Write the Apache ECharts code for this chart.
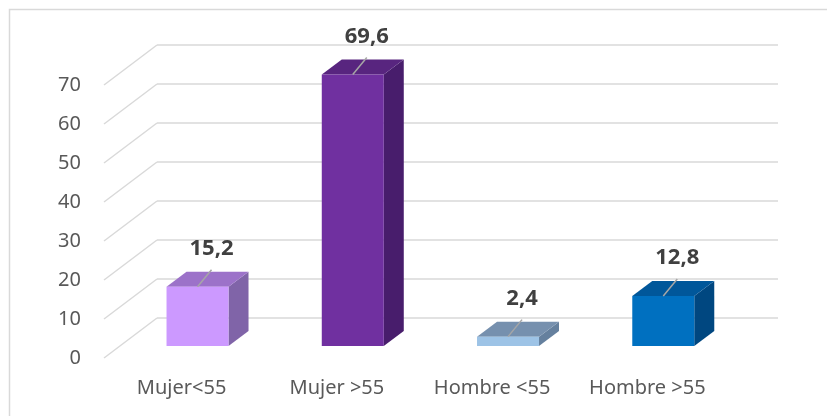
<!DOCTYPE html>
<html>
<head>
<meta charset="utf-8">
<script src="https://cdn.jsdelivr.net/npm/echarts@6/dist/echarts.min.js"></script>
<style>
  html, body { margin: 0; padding: 0; background: #fff; }
  #chart { width: 827px; height: 416px; }
</style>
</head>
<body>
<div id="chart"></div>
<script>
// datos
const categories = ['Mujer<55', 'Mujer >55', 'Hombre <55', 'Hombre >55']
const values = [15.2, 69.6, 2.4, 12.8]
const yTicks = [0, 10, 20, 30, 40, 50, 60, 70]

// colores de cada barra: frente, techo, lateral
const faceColors = ['#CC99FF', '#7030A0', '#9DC3E6', '#0070C0']
const topColors = ['#9C72C9', '#58257F', '#7690AE', '#00579A']
const sideColors = ['#8064A8', '#481D6C', '#65809E', '#004780']

// profundidad del suelo y de las barras (perspectiva tipo Excel)
const FLOOR_DX = 53
const FLOOR_DY = -40
const BAR_DX = 20
const BAR_DY = -15
const BAR_OFF = 0.3 // posicion de la barra dentro del fondo
const BAR_W = 62

const chart = echarts.init(document.getElementById('chart'))

const fmt = v => v.toFixed(1).replace('.', ',')

chart.setOption({
  animation: false,
  graphic: [
    {
      type: 'rect',
      shape: { x: 9.5, y: 9.5, width: 840, height: 430 },
      style: { fill: 'none', stroke: '#D9D9D9', lineWidth: 1.5 },
      z: -10
    }
  ],
  grid: [
    // plano frontal
    { left: 104, top: 85, width: 621, height: 273 },
    // pared del fondo
    { left: 104 + FLOOR_DX, top: 85 + FLOOR_DY, width: 621, height: 273 }
  ],
  xAxis: [
    {
      gridIndex: 0,
      type: 'category',
      data: categories,
      axisLine: { show: false },
      axisTick: { show: false },
      axisLabel: {
        margin: 20,
        fontFamily: 'Noto Sans',
        fontSize: 20,
        color: '#595959'
      }
    },
    {
      gridIndex: 1,
      type: 'category',
      data: categories,
      show: false
    }
  ],
  yAxis: [
    {
      gridIndex: 0,
      type: 'value',
      min: 0,
      max: 70,
      interval: 10,
      axisLine: { show: false },
      axisTick: { show: false },
      splitLine: { show: false },
      axisLabel: {
        margin: 23,
        fontFamily: 'Noto Sans',
        fontSize: 20,
        color: '#595959'
      }
    },
    {
      gridIndex: 1,
      type: 'value',
      min: 0,
      max: 70,
      interval: 10,
      axisLine: { show: false },
      axisTick: { show: false },
      axisLabel: { show: false },
      splitLine: { lineStyle: { color: '#D9D9D9', width: 1.5 } }
    }
  ],
  series: [
    {
      // lineas diagonales del suelo/pared lateral
      type: 'custom',
      xAxisIndex: 0,
      yAxisIndex: 0,
      z: 1,
      data: yTicks.map(t => [0, t]),
      encode: { x: 0, y: 1 },
      renderItem: (params, api) => {
        const x0 = params.coordSys.x
        const y0 = api.coord([0, api.value(1)])[1]
        return {
          type: 'line',
          shape: { x1: x0, y1: y0, x2: x0 + FLOOR_DX, y2: y0 + FLOOR_DY },
          style: { stroke: '#D9D9D9', lineWidth: 1.5 }
        }
      }
    },
    {
      // barras 3D
      type: 'custom',
      xAxisIndex: 0,
      yAxisIndex: 0,
      z: 3,
      data: values.map((v, i) => [i, v]),
      encode: { x: 0, y: 1 },
      renderItem: (params, api) => {
        const i = api.value(0)
        const v = api.value(1)
        const base = api.coord([i, 0])
        const top = api.coord([i, v])
        const cx = base[0] + BAR_OFF * FLOOR_DX
        const yb = base[1] + BAR_OFF * FLOOR_DY
        const yt = top[1] + BAR_OFF * FLOOR_DY
        const x1 = cx - BAR_W / 2
        const x2 = cx + BAR_W / 2
        return {
          type: 'group',
          children: [
            {
              type: 'polygon',
              shape: { points: [[x2, yb], [x2 + BAR_DX, yb + BAR_DY], [x2 + BAR_DX, yt + BAR_DY], [x2, yt]] },
              style: { fill: sideColors[i] }
            },
            {
              type: 'polygon',
              shape: { points: [[x1, yt], [x2, yt], [x2 + BAR_DX, yt + BAR_DY], [x1 + BAR_DX, yt + BAR_DY]] },
              style: { fill: topColors[i] }
            },
            {
              type: 'rect',
              shape: { x: x1, y: yt, width: BAR_W, height: yb - yt },
              style: { fill: faceColors[i] }
            },
            {
              type: 'line',
              shape: { x1: cx, y1: yt, x2: cx + 14, y2: yt - 17 },
              style: { stroke: '#A6A6A6', lineWidth: 1.5 }
            },
            {
              type: 'text',
              style: {
                x: cx + 14,
                y: yt - 38,
                text: fmt(v),
                align: 'center',
                verticalAlign: 'middle',
                fontFamily: 'Noto Sans',
                fontWeight: 'bold',
                fontSize: 22,
                fill: '#404040'
              }
            }
          ]
        }
      }
    }
  ]
})
</script>
</body>
</html>
